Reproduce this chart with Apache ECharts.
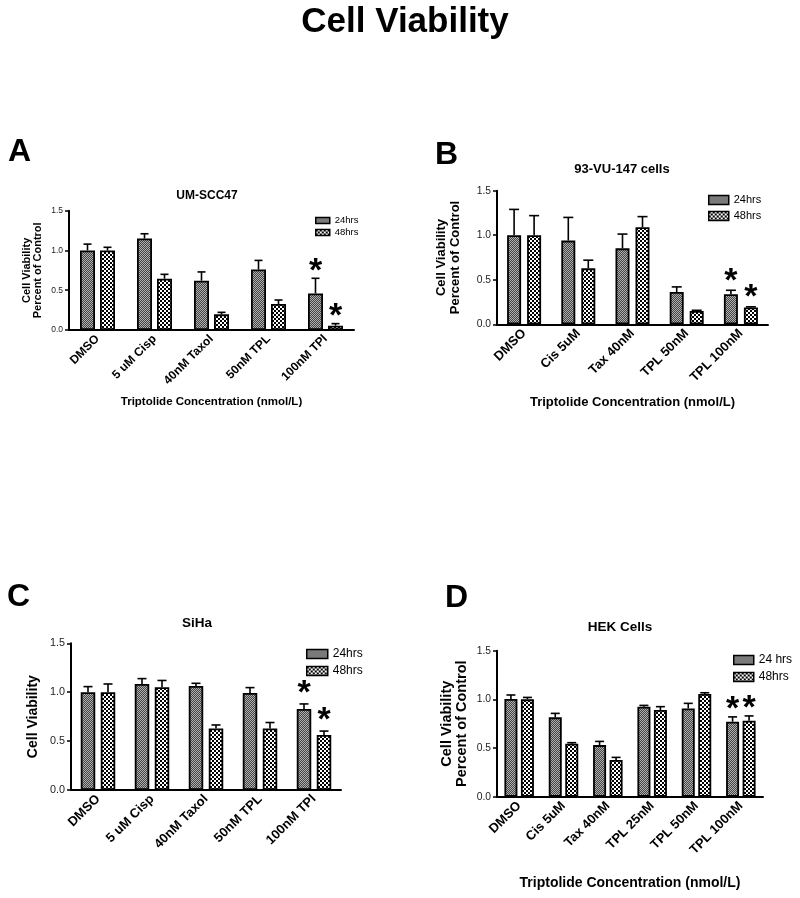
<!DOCTYPE html>
<html><head><meta charset="utf-8">
<script src="https://cdn.jsdelivr.net/npm/echarts@6/dist/echarts.min.js"></script>
<style>html,body{margin:0;padding:0;background:#fff}#c{width:800px;height:898px}</style>
</head><body><div id="c"></div>
<script>
// ---------- data ----------
const mainTitle = 'Cell Viability';
const xAxisTitle = 'Triptolide Concentration (nmol/L)';
const yTicks = [0, 0.5, 1.0, 1.5];

// Panel A: UM-SCC47
const catA = ['DMSO', '5 uM Cisp', '40nM Taxol', '50nM TPL', '100nM TPl'];
const a24 = [1.00, 1.15, 0.62, 0.76, 0.46];
const a24Err = [0.08, 0.06, 0.11, 0.115, 0.19];
const a48 = [1.00, 0.645, 0.197, 0.327, 0.054];
const a48Err = [0.04, 0.055, 0.025, 0.05, 0.026];
const a24Star = [0, 0, 0, 0, 1];
const a48Star = [0, 0, 0, 0, 1];

// Panel B: 93-VU-147 cells
const catB = ['DMSO', 'Cis 5uM', 'Tax 40nM', 'TPL 50nM', 'TPL 100nM'];
const b24 = [1.00, 0.94, 0.853, 0.363, 0.337];
const b24Err = [0.29, 0.26, 0.16, 0.057, 0.045];
const b48 = [1.00, 0.628, 1.089, 0.15, 0.19];
const b48Err = [0.22, 0.092, 0.12, 0.007, 0.006];
const b24Star = [0, 0, 0, 0, 1];
const b48Star = [0, 0, 0, 0, 1];

// Panel C: SiHa
const catC = ['DMSO', '5 uM Cisp', '40nM Taxol', '50nM TPL', '100nM TPl'];
const c24 = [1.00, 1.084, 1.064, 0.992, 0.828];
const c24Err = [0.057, 0.055, 0.027, 0.055, 0.052];
const c48 = [1.00, 1.05, 0.63, 0.63, 0.5625];
const c48Err = [0.084, 0.07, 0.035, 0.06, 0.04];
const c24Star = [0, 0, 0, 0, 1];
const c48Star = [0, 0, 0, 0, 1];

// Panel D: HEK Cells
const catD = ['DMSO', 'Cis 5uM', 'Tax 40nM', 'TPL 25nM', 'TPL 50nM', 'TPL 100nM'];
const d24 = [1.003, 0.815, 0.53, 0.925, 0.907, 0.77];
const d24Err = [0.042, 0.041, 0.038, 0.013, 0.052, 0.05];
const d48 = [1.0, 0.544, 0.377, 0.89, 1.055, 0.78];
const d48Err = [0.02, 0.011, 0.027, 0.035, 0.013, 0.05];
const d24Star = [0, 0, 0, 0, 0, 1];
const d48Star = [0, 0, 0, 0, 0, 1];

// ---------- styling / layout ----------
const FF = '"Liberation Sans", Arial, Helvetica, sans-serif';

function makePattern(kind) {
  const c = document.createElement('canvas');
  const ctx = c.getContext('2d');
  if (kind === 'fine') {
    c.width = 2; c.height = 2;
    ctx.fillStyle = '#444444'; ctx.fillRect(0, 0, 2, 2);
    ctx.fillStyle = '#b0b0b0'; ctx.fillRect(0, 0, 1, 1); ctx.fillRect(1, 1, 1, 1);
  } else {
    c.width = 4; c.height = 4;
    ctx.fillStyle = '#ffffff'; ctx.fillRect(0, 0, 4, 4);
    ctx.fillStyle = '#000000'; ctx.fillRect(0, 0, 2, 2); ctx.fillRect(2, 2, 2, 2);
  }
  return { image: c, repeat: 'repeat' };
}
const pat24 = makePattern('fine');
const pat48 = makePattern('coarse');

const panels = [
  { letter: 'A', letterPos: [8, 136], title: 'UM-SCC47', titlePos: [207, 189.5], titleFont: 12,
    cats: catA, s24: a24, e24: a24Err, s48: a48, e48: a48Err, st24: a24Star, st48: a48Star,
    names: ['24hrs', '48hrs'],
    grid: { left: 69, top: 210.7, width: 285, height: 119.3 },
    bw: 15, gap: 5, capW: 8, tickFont: 8.5, catFont: 12, starOff: 7,
    yName: 'Cell Viability\nPercent of Control', yNameFont: 11, yNameGap: 25,
    xName: xAxisTitle, xNameFont: 11.5, xNameGap: 66,
    legend: { left: 315, top: 215.5, w: 14, h: 6, font: 9.5, gap: 2 } },
  { letter: 'B', letterPos: [435, 139], title: '93-VU-147 cells', titlePos: [622, 163], titleFont: 13,
    cats: catB, s24: b24, e24: b24Err, s48: b48, e48: b48Err, st24: b24Star, st48: b48Star,
    names: ['24hrs', '48hrs'],
    grid: { left: 497, top: 190.7, width: 271, height: 133.6 },
    bw: 14, gap: 6, capW: 10, tickFont: 10.3, catFont: 13, starOff: 9,
    yName: 'Cell Viability\nPercent of Control', yNameFont: 13, yNameGap: 35,
    xName: xAxisTitle, xNameFont: 13, xNameGap: 72,
    legend: { left: 708, top: 194.5, w: 20, h: 9, font: 11, gap: 5 } },
  { letter: 'C', letterPos: [7, 581], title: 'SiHa', titlePos: [197, 616], titleFont: 13.5,
    cats: catC, s24: c24, e24: c24Err, s48: c48, e48: c48Err, st24: c24Star, st48: c48Star,
    names: ['24hrs', '48hrs'],
    grid: { left: 71, top: 643.3, width: 270, height: 146.7 },
    bw: 14.5, gap: 5.5, capW: 9, tickFont: 10.8, catFont: 13, starOff: 10,
    yName: 'Cell Viability', yNameFont: 14, yNameGap: 31,
    xName: '', xNameFont: 13, xNameGap: 70,
    legend: { left: 306, top: 648, w: 21, h: 9, font: 12, gap: 5 } },
  { letter: 'D', letterPos: [445, 582], title: 'HEK Cells', titlePos: [620, 620.5], titleFont: 13.5,
    cats: catD, s24: d24, e24: d24Err, s48: d48, e48: d48Err, st24: d24Star, st48: d48Star,
    names: ['24 hrs', '48hrs'],
    grid: { left: 497, top: 650.7, width: 266, height: 146 },
    bw: 13, gap: 3.5, capW: 9, tickFont: 10.3, catFont: 13, starOff: 7,
    yName: 'Cell Viability\nPercent of Control', yNameFont: 14.5, yNameGap: 27,
    xName: xAxisTitle, xNameFont: 14, xNameGap: 79,
    legend: { left: 733, top: 654, w: 20, h: 9, font: 12, gap: 5 } }
];

const title = [{
  text: mainTitle, left: 405, top: 5, textAlign: 'center', padding: 0,
  textStyle: { fontFamily: FF, fontSize: 35, fontWeight: 'bold', color: '#000' }
}];
const grid = [], xAxis = [], yAxis = [], series = [], legend = [];

function errSeries(p, gi, vals, errs, stars, sign) {
  return {
    type: 'custom', xAxisIndex: gi, yAxisIndex: gi, z: 5, silent: true,
    encode: { x: 0, y: 1 },
    data: vals.map((v, i) => [i, v, errs[i], stars[i]]),
    renderItem(params, api) {
      const i = api.value(0), v = api.value(1), e = api.value(2), st = api.value(3);
      const b = api.coord([i, v]), t = api.coord([i, v + e]);
      const x = b[0] + sign * (p.bw + p.gap) / 2;
      const children = [
        { type: 'line', shape: { x1: x, y1: b[1], x2: x, y2: t[1] }, style: { stroke: '#000', lineWidth: 1.6 } },
        { type: 'line', shape: { x1: x - p.capW / 2, y1: t[1], x2: x + p.capW / 2, y2: t[1] }, style: { stroke: '#000', lineWidth: 1.6 } }
      ];
      if (st) {
        children.push({ type: 'text', x: x, y: t[1] - p.starOff,
          style: { text: '*', font: 'bold 34px ' + FF, fill: '#000', align: 'center', verticalAlign: 'middle' } });
      }
      return { type: 'group', children };
    }
  };
}

panels.forEach((p, gi) => {
  title.push({ text: p.letter, left: p.letterPos[0], top: p.letterPos[1], padding: 0,
    textStyle: { fontFamily: FF, fontSize: 32, fontWeight: 'bold', color: '#000' } });
  title.push({ text: p.title, left: p.titlePos[0], top: p.titlePos[1], textAlign: 'center', padding: 0,
    textStyle: { fontFamily: FF, fontSize: p.titleFont, fontWeight: 'bold', color: '#000' } });
  grid.push(Object.assign({ containLabel: false }, p.grid));
  xAxis.push({
    type: 'category', gridIndex: gi, data: p.cats,
    axisLine: { lineStyle: { color: '#000', width: 2 } },
    axisTick: { alignWithLabel: true, length: 4, lineStyle: { color: '#000', width: 1.5 } },
    axisLabel: { rotate: 45, interval: 0, margin: 7, fontFamily: FF, fontWeight: 'bold', fontSize: p.catFont, color: '#000' },
    name: p.xName, nameLocation: 'middle', nameGap: p.xNameGap,
    nameTextStyle: { fontFamily: FF, fontWeight: 'bold', fontSize: p.xNameFont, color: '#000' }
  });
  yAxis.push({
    type: 'value', gridIndex: gi, min: yTicks[0], max: yTicks[yTicks.length - 1], interval: 0.5,
    splitLine: { show: false },
    axisLine: { show: true, lineStyle: { color: '#000', width: 2 } },
    axisTick: { show: true, length: 4, lineStyle: { color: '#000', width: 1.5 } },
    axisLabel: { formatter: v => v.toFixed(1), fontFamily: FF, fontSize: p.tickFont, color: '#222', margin: 6 },
    name: p.yName, nameLocation: 'middle', nameRotate: 90, nameGap: p.yNameGap,
    nameTextStyle: { fontFamily: FF, fontWeight: 'bold', fontSize: p.yNameFont, lineHeight: p.yNameFont * 1.05, color: '#000' }
  });
  const gapPct = (p.gap / p.bw * 100) + '%';
  series.push({ type: 'bar', name: p.names[0], xAxisIndex: gi, yAxisIndex: gi, data: p.s24,
    barWidth: p.bw, barGap: gapPct, silent: true,
    itemStyle: { color: pat24, borderColor: '#000', borderWidth: 1.8 } });
  series.push({ type: 'bar', name: p.names[1], xAxisIndex: gi, yAxisIndex: gi, data: p.s48,
    barWidth: p.bw, barGap: gapPct, silent: true,
    itemStyle: { color: pat48, borderColor: '#000', borderWidth: 1.8 } });
  series.push(errSeries(p, gi, p.s24, p.e24, p.st24, -1));
  series.push(errSeries(p, gi, p.s48, p.e48, p.st48, 1));
  legend.push({
    data: p.names, orient: 'vertical', left: p.legend.left, top: p.legend.top, padding: 0,
    itemWidth: p.legend.w, itemHeight: p.legend.h, itemGap: p.legend.gap, icon: 'rect',
    selectedMode: false,
    itemStyle: { borderColor: '#000', borderWidth: 1.5 },
    textStyle: { fontFamily: FF, fontSize: p.legend.font, color: '#000' }
  });
});

const chart = echarts.init(document.getElementById('c'), null, { renderer: 'canvas' });
chart.setOption({ animation: false, backgroundColor: '#fff', title, grid, xAxis, yAxis, series, legend, tooltip: { show: false } });
</script>
</body></html>
